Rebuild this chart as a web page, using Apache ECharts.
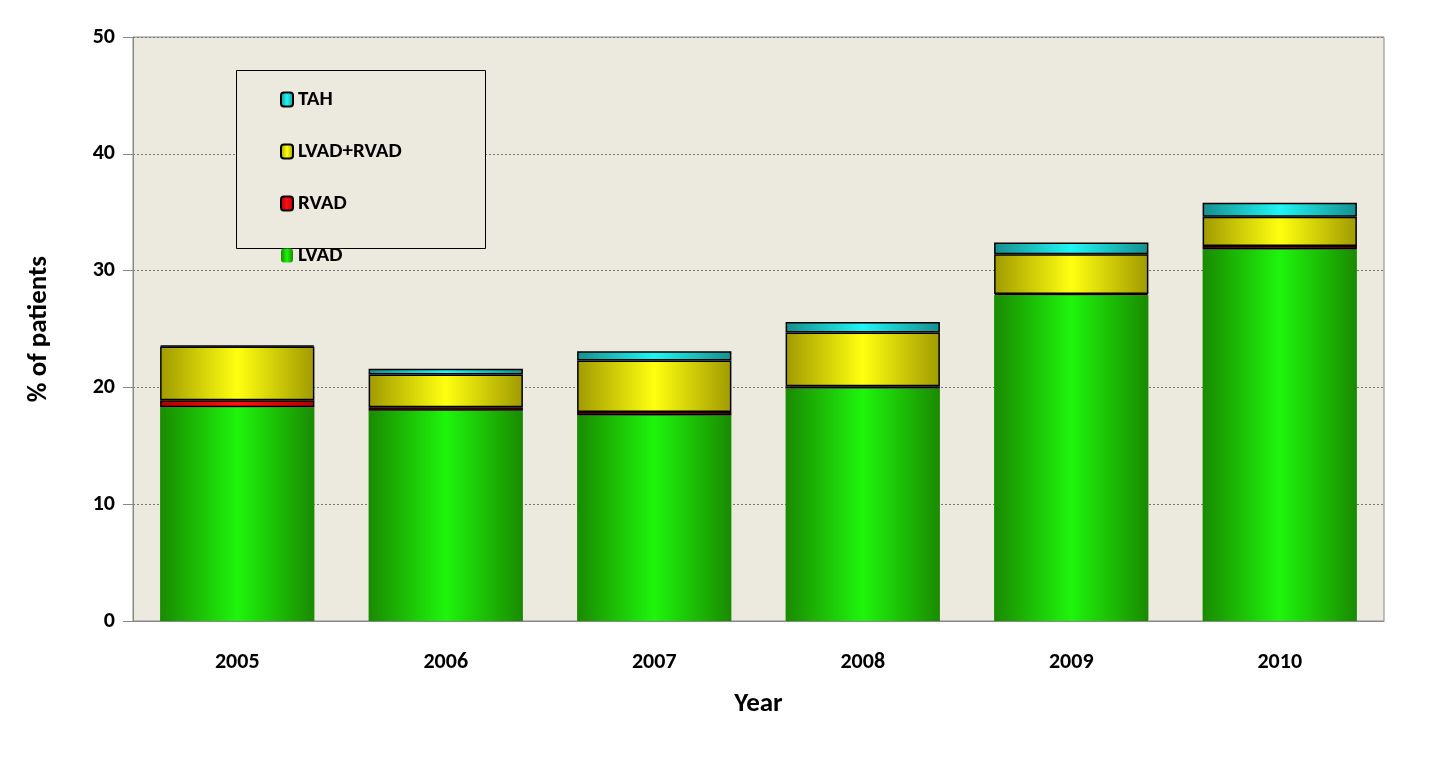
<!DOCTYPE html>
<html>
<head>
<meta charset="utf-8">
<script src="https://cdn.jsdelivr.net/npm/echarts@6/dist/echarts.min.js"></script>
<style>html,body{margin:0;background:#fff}#chart{width:1429px;height:779px}</style>
</head>
<body>
<div id="chart"></div>
<script>
let years = ['2005', '2006', '2007', '2008', '2009', '2010'];
let lvad = [18.3, 18.0, 17.6, 19.9, 27.9, 31.8];
let rvad = [0.6, 0.3, 0.3, 0.2, 0.1, 0.3];
let lvadRvad = [4.6, 2.8, 4.4, 4.6, 3.4, 2.5];
let tah = [0.1, 0.5, 0.8, 0.9, 1.0, 1.2];

function grad(edge, mid) {
    return new echarts.graphic.LinearGradient(0, 0, 1, 0, [
        {offset: 0, color: edge}, {offset: 0.5, color: mid}, {offset: 1, color: edge}
    ]);
}

function mkSeries(name, data, edge, mid) {
    return {
        name: name, type: 'bar', stack: 'all', data: data, barWidth: '74%',
        itemStyle: {color: grad(edge, mid), borderColor: '#000', borderWidth: name === 'LVAD' ? 0 : 1.5}
    };
}

let chart = echarts.init(document.getElementById('chart'));
let font = 'Calibri, "Liberation Sans", "DejaVu Sans", sans-serif';
chart.setOption({
    animation: false,
    textStyle: {fontFamily: font},
    grid: {left: 133, right: 45, top: 37, bottom: 158, show: true, backgroundColor: '#ECE9DF', borderColor: '#888', borderWidth: 1},
    graphic: [{type: 'rect', left: 236, top: 70, shape: {width: 249, height: 178},
        style: {fill: '#ECE9DF', stroke: '#000', lineWidth: 1}, z: 10}],
    legend: {
        orient: 'vertical', left: 275, top: 84, itemGap: 31, itemWidth: 12, itemHeight: 14, z: 20,
        data: ['TAH', 'LVAD+RVAD', 'RVAD', 'LVAD'],
        textStyle: {fontSize: 21, fontWeight: 'bold', color: '#000', fontFamily: font}
    },
    xAxis: {
        type: 'category', data: years, name: 'Year', nameLocation: 'middle', nameGap: 70,
        nameTextStyle: {fontSize: 27, fontWeight: 'bold', color: '#000'},
        axisLine: {lineStyle: {color: '#888'}},
        axisTick: {lineStyle: {color: '#888'}, length: 8},
        axisLabel: {fontSize: 22, fontWeight: 'bold', color: '#000', margin: 30}
    },
    yAxis: {
        type: 'value', min: 0, max: 50, interval: 10, name: '% of patients', nameLocation: 'middle', nameGap: 80,
        nameTextStyle: {fontSize: 27, fontWeight: 'bold', color: '#000'},
        axisLine: {show: true, lineStyle: {color: '#888'}},
        axisTick: {show: true, inside: false, length: 10, lineStyle: {color: '#888'}},
        axisLabel: {fontSize: 22, fontWeight: 'bold', color: '#000', margin: 18},
        splitLine: {lineStyle: {color: '#777', type: [2, 2], width: 1}}
    },
    series: [
        mkSeries('LVAD', lvad, '#1a8a00', '#1ef50c'),
        mkSeries('RVAD', rvad, '#b00000', '#ff1010'),
        mkSeries('LVAD+RVAD', lvadRvad, '#a09a00', '#ffff10'),
        mkSeries('TAH', tah, '#168f8f', '#1ff5f5')
    ]
});
</script>
</body>
</html>
